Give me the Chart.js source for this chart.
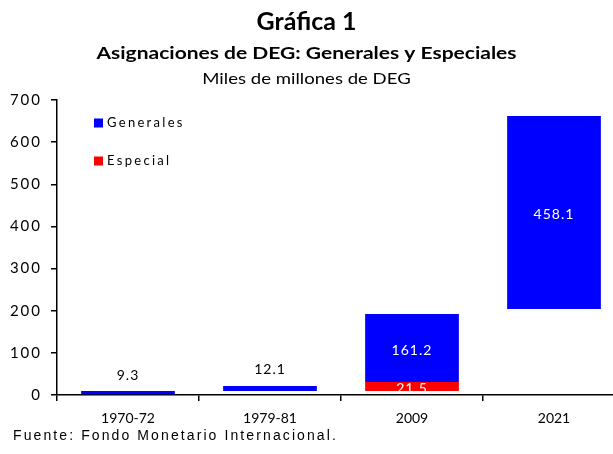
<!DOCTYPE html>
<html>
<head>
<meta charset="utf-8">
<script src="https://cdn.jsdelivr.net/npm/chart.js@4.4.1/dist/chart.umd.min.js"></script>
<style>
  html, body { margin: 0; padding: 0; background: #fff; overflow: hidden; }
  #wrap { position: relative; width: 613px; height: 454px; overflow: hidden; }
  #box { position: absolute; left: 0; top: 0; width: 640px; height: 454px; }
</style>
</head>
<body>
<div id="wrap"><div id="box"><canvas id="chart" width="640" height="454"></canvas></div></div>
<script>
const categories = ['1970-72', '1979-81', '2009', '2021'];
// asignaciones, miles de millones de DEG
const generales = [9.3, 12.1, 161.2, 458.1];
const especial = [null, null, 21.5, null];
// start of each floating bar (the hidden base series of the original chart)
const generalesBase = [0, 9.3, 30.8, 204.1];
const especialBase = [null, null, 9.3, null];
const yTicks = [0, 100, 200, 300, 400, 500, 600, 700];

const labelOutside = [true, true, false, false];
const FONT = 'Lato';

function floating(base, vals) {
    return vals.map((v, i) => (v == null ? null : [base[i], base[i] + v]));
}

// text a little wider than the font, like the exported original
function wideText(ctx, txt, x, y, sx) {
    ctx.save();
    ctx.translate(x, y);
    ctx.scale(sx, 1);
    ctx.fillText(txt, 0, 0);
    ctx.restore();
}

const textPlugin = {
    id: 'texts',
    afterDraw(chart) {
        const ctx = chart.ctx;
        const cx = 306.5;
        ctx.save();
        ctx.fillStyle = '#000';
        ctx.textAlign = 'center';
        ctx.textBaseline = 'alphabetic';
        ctx.font = 'bold 25px ' + FONT;
        wideText(ctx, 'Gráfica 1', cx, 30, 1.0);
        ctx.font = 'bold 17.5px ' + FONT;
        wideText(ctx, 'Asignaciones de DEG: Generales y Especiales', cx, 59, 1.2);
        ctx.font = '16px ' + FONT;
        wideText(ctx, 'Miles de millones de DEG', cx, 83.5, 1.16);

        // legend inside the plot
        ctx.textBaseline = 'middle';
        const items = [['Generales', '#0000ff', 123], ['Especial', '#ff0000', 161]];
        ctx.textAlign = 'left';
        ctx.font = '13px ' + FONT;
        ctx.letterSpacing = '2.3px';
        items.forEach(([txt, col, y]) => {
            ctx.fillStyle = col;
            ctx.fillRect(94, y - 4.5, 9, 9);
            ctx.fillStyle = '#000';
            ctx.fillText(txt, 107, y);
        });

        // data labels
        ctx.textAlign = 'center';
        ctx.font = '14px ' + FONT;
        ctx.letterSpacing = '1px';
        const sets = [generales, especial];
        sets.forEach((vals, d) => {
            const meta = chart.getDatasetMeta(d);
            vals.forEach((v, i) => {
                if (v == null) return;
                const bar = meta.data[i];
                if (labelOutside[i]) {
                    ctx.fillStyle = '#000';
                    ctx.fillText(v.toFixed(1), bar.x, bar.y - 16);
                } else {
                    ctx.fillStyle = '#fff';
                    ctx.fillText(v.toFixed(1), bar.x, (bar.y + bar.base) / 2 + 2);
                }
            });
        });

        ctx.textAlign = 'left';
        ctx.textBaseline = 'alphabetic';
        ctx.fillStyle = '#000';
        ctx.font = '14px "Liberation Sans"';
        ctx.letterSpacing = '2.1px';
        ctx.fillText('Fuente: Fondo Monetario Internacional.', 13, 440);
        ctx.restore();
    }
};

const chart = new Chart(document.getElementById('chart'), {
    type: 'bar',
    data: {
        labels: categories,
        datasets: [
            {
                label: 'Generales',
                data: floating(generalesBase, generales),
                backgroundColor: '#0000ff',
                borderWidth: 0,
            },
            {
                label: 'Especial',
                data: floating(especialBase, especial),
                backgroundColor: '#ff0000',
                borderWidth: 0,
            },
        ],
    },
    options: {
        responsive: false,
        devicePixelRatio: 1,
        animation: false,
        barPercentage: 0.66,
        categoryPercentage: 1,
        layout: { padding: { top: 100, right: 15, bottom: 29, left: 0 } },
        plugins: {
            legend: { display: false },
            tooltip: { enabled: false },
        },
        scales: {
            x: {
                stacked: true,
                offset: true,
                grid: {
                    offset: true,
                    drawOnChartArea: false,
                    drawTicks: true,
                    tickLength: 6,
                    color: '#000',
                    lineWidth: 1.5,
                },
                border: { color: '#000', width: 1.5 },
                ticks: { color: '#000', font: { family: FONT, size: 14 }, padding: 9 },
                afterFit(scale) { scale.height = 30; },
            },
            y: {
                min: 0,
                max: 700,
                afterBuildTicks(scale) { scale.ticks = yTicks.map(v => ({ value: v })); },
                grid: {
                    drawOnChartArea: false,
                    drawTicks: true,
                    tickLength: 6,
                    color: '#000',
                    lineWidth: 1.5,
                },
                border: { color: '#000', width: 1.5 },
                ticks: { color: '#000', font: { family: FONT, size: 15 }, padding: 9 },
                afterFit(scale) {
                    scale.width = 57;
                    // spaced-out value labels, as in the original
                    if (!scale._spaced) {
                        scale._spaced = true;
                        const draw = scale.drawLabels;
                        scale.drawLabels = function (area) {
                            const ctx = this.ctx;
                            const prev = ctx.letterSpacing;
                            ctx.letterSpacing = '2px';
                            draw.call(this, area);
                            ctx.letterSpacing = prev;
                        };
                    }
                },
            },
        },
    },
    plugins: [textPlugin],
});
</script>
</body>
</html>
